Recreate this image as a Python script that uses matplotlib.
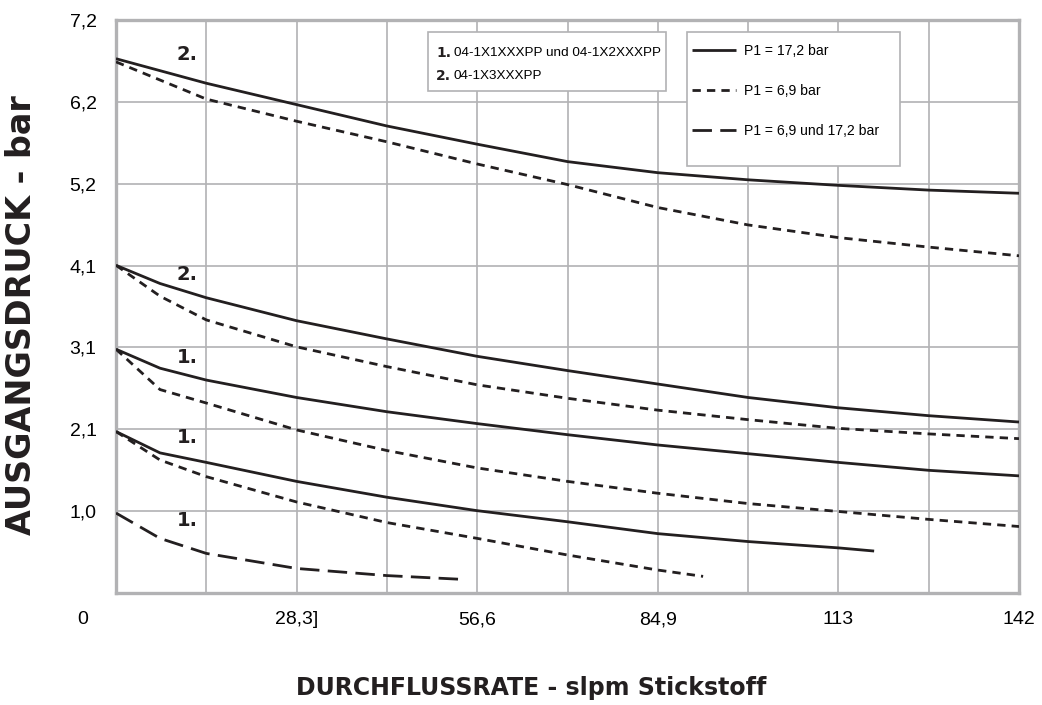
import numpy as np
import matplotlib.pyplot as plt
from matplotlib.patches import Rectangle

# Ausgangsdruck (bar) vs. Durchflussrate (slpm Stickstoff)
x_grid = [0, 14.15, 28.3, 42.45, 56.6, 70.75, 84.9, 99.05, 113.2, 127.35, 141.5]
x_start = [0, 6.9, 14.15, 28.3, 42.45, 56.6, 70.75, 84.9, 99.05, 113.2, 127.35, 141.5]

# 2. (04-1X3XXXPP), Anfangsdruck ca. 6,7 bar
y2_hi_172 = [6.75, 6.44, 6.17, 5.90, 5.67, 5.45, 5.31, 5.22, 5.15, 5.09, 5.05]
y2_hi_69 = [6.71, 6.24, 5.96, 5.70, 5.42, 5.16, 4.87, 4.65, 4.49, 4.37, 4.26]

# 2. (04-1X3XXXPP), Anfangsdruck ca. 4,1 bar
y2_lo_172 = [4.14, 3.91, 3.73, 3.44, 3.21, 2.99, 2.81, 2.64, 2.47, 2.34, 2.24, 2.16]
y2_lo_69 = [4.14, 3.75, 3.45, 3.11, 2.86, 2.63, 2.46, 2.31, 2.19, 2.08, 2.01, 1.95]

# 1. (04-1X1XXXPP / 04-1X2XXXPP), Anfangsdruck ca. 3,1 bar
y1_hi_172 = [3.08, 2.84, 2.69, 2.47, 2.29, 2.14, 2.00, 1.87, 1.76, 1.65, 1.55, 1.48]
y1_hi_69 = [3.08, 2.57, 2.40, 2.06, 1.80, 1.58, 1.41, 1.26, 1.13, 1.03, 0.93, 0.84]

# 1., Anfangsdruck ca. 2,1 bar
x1_mid_172 = [0, 6.9, 14.15, 28.3, 42.45, 56.6, 70.75, 84.9, 99.05, 113.2, 118.8]
y1_mid_172 = [2.04, 1.77, 1.65, 1.41, 1.21, 1.04, 0.90, 0.75, 0.65, 0.57, 0.53]
x1_mid_69 = [0, 6.9, 14.15, 28.3, 42.45, 56.6, 70.75, 84.9, 92.0]
y1_mid_69 = [2.04, 1.68, 1.47, 1.15, 0.89, 0.69, 0.48, 0.29, 0.21]

# 1., Anfangsdruck ca. 1,0 bar (6,9 und 17,2 bar)
x1_low = [0, 6.9, 14.15, 28.3, 42.45, 54.8]
y1_low = [1.01, 0.69, 0.50, 0.31, 0.22, 0.17]

y_ticks = [1.034, 2.068, 3.103, 4.137, 5.171, 6.205, 7.239]
y_labels = ["1,0", "2,1", "3,1", "4,1", "5,2", "6,2", "7,2"]
x_labels = ["", "", "28,3]", "", "56,6", "", "84,9", "", "113", "", "142"]

plt.rcParams['font.family'] = ['Liberation Sans', 'DejaVu Sans']
ink = '#231f20'
gray = '#b2b2b4'
heavy = dict(family='DejaVu Sans', fontweight='bold', color=ink)

fig = plt.figure(figsize=(10.42, 7.05), dpi=100)
ax = fig.add_axes([116/1042, 112/705, 903/1042, 573/705])

solid = dict(color=ink, lw=2.0, ls='-', zorder=3, solid_capstyle='butt')
dotted = dict(color=ink, lw=2.0, ls=(0, (3, 2.2)), zorder=3)
dashed = dict(color=ink, lw=2.0, ls=(0, (7, 3)), zorder=3)

l_172, = ax.plot(x_grid, y2_hi_172, **solid)
l_69, = ax.plot(x_grid, y2_hi_69, **dotted)
ax.plot(x_start, y2_lo_172, **solid)
ax.plot(x_start, y2_lo_69, **dotted)
ax.plot(x_start, y1_hi_172, **solid)
ax.plot(x_start, y1_hi_69, **dotted)
ax.plot(x1_mid_172, y1_mid_172, **solid)
ax.plot(x1_mid_69, y1_mid_69, **dotted)
l_both, = ax.plot(x1_low, y1_low, **dashed)

ax.set_xlim(0, 141.5)
ax.set_ylim(0, 7.239)
ax.set_xticks(x_grid)
ax.set_xticklabels(x_labels, fontsize=14)
ax.set_yticks(y_ticks)
ax.set_yticklabels(y_labels, fontsize=14)
ax.tick_params(axis='x', length=0, pad=13)
ax.tick_params(axis='y', length=0, pad=14)
ax.grid(True, color=gray, lw=1.2, zorder=1)
ax.set_axisbelow(True)
for s in ax.spines.values():
    s.set_color(gray)
    s.set_linewidth(2.4)

ax.text(-0.0365, -0.047, "0", transform=ax.transAxes, fontsize=14,
        ha='center', va='center')

# Kurvenbezeichnungen
for yy, lab in [(6.80, "2."), (4.02, "2."), (2.98, "1."), (1.96, "1."), (0.92, "1.")]:
    ax.text(11.1, yy, lab, fontsize=14, ha='center', va='center', **heavy)

# Kasten 1: Typen
ax.add_patch(Rectangle((0.3455, 0.876), 0.2635, 0.103, transform=ax.transAxes,
                       facecolor='white', edgecolor=gray, lw=1.2, zorder=4))
ax.text(0.3545, 0.943, "1.", transform=ax.transAxes, fontsize=10,
        va='center', zorder=5, **heavy)
ax.text(0.374, 0.943, "04-1X1XXXPP und 04-1X2XXXPP", transform=ax.transAxes,
        fontsize=9.7, va='center', zorder=5)
ax.text(0.3545, 0.9015, "2.", transform=ax.transAxes, fontsize=10,
        va='center', zorder=5, **heavy)
ax.text(0.374, 0.9015, "04-1X3XXXPP", transform=ax.transAxes,
        fontsize=9.7, va='center', zorder=5)

# Kasten 2: Linienarten
ax.add_patch(Rectangle((0.6323, 0.745), 0.2359, 0.234, transform=ax.transAxes,
                       facecolor='white', edgecolor=gray, lw=1.2, zorder=4))
leg = ax.legend([l_172, l_69, l_both],
                ["P1 = 17,2 bar", "P1 = 6,9 bar", "P1 = 6,9 und 17,2 bar"],
                loc='upper left', bbox_to_anchor=(0.6379, 0.958), frameon=False,
                fontsize=10.1, handlelength=3.1, handletextpad=0.6,
                labelspacing=1.86, borderpad=0, borderaxespad=0)
leg.set_zorder(6)

fig.text(0.5096, 0.0241, "DURCHFLUSSRATE - slpm Stickstoff", fontsize=17,
         ha='center', va='center', **heavy)
fig.text(0.021, 0.553, "AUSGANGSDRUCK - bar", fontsize=24, rotation=90,
         ha='center', va='center', **heavy)

fig.savefig("out.png", dpi=100)
